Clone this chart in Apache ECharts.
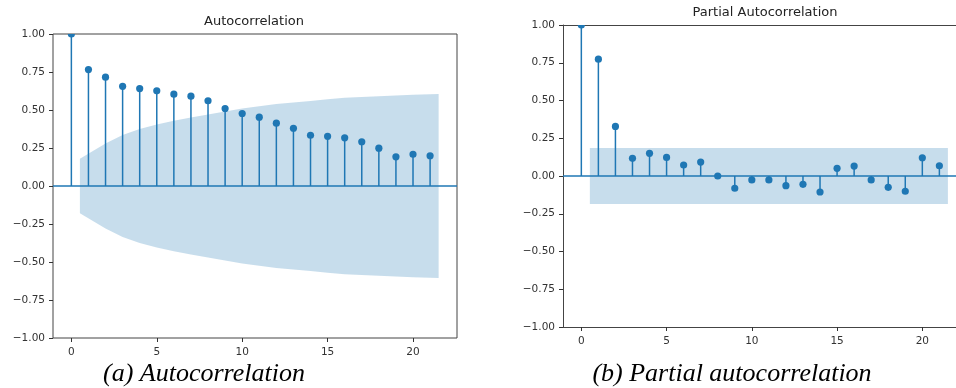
<!DOCTYPE html>
<html>
<head>
<meta charset="utf-8">
<script src="https://cdn.jsdelivr.net/npm/echarts@6/dist/echarts.min.js"></script>
<style>html,body{margin:0;padding:0;background:#fff}#c{width:956px;height:388px}</style>
</head>
<body>
<div id="c"></div>
<script>
// ---- data ----
const lags = [0,1,2,3,4,5,6,7,8,9,10,11,12,13,14,15,16,17,18,19,20,21];
const acfValues = [1.0,0.766,0.716,0.656,0.641,0.626,0.604,0.591,0.561,0.510,0.477,0.453,0.413,0.380,0.334,0.327,0.317,0.291,0.249,0.192,0.209,0.199];
// confidence band for lags 1..21
const acfBandUpper = [0.18,0.28,0.335,0.375,0.405,0.43,0.45,0.47,0.49,0.51,0.525,0.54,0.55,0.56,0.57,0.58,0.585,0.59,0.595,0.60,0.605];
const acfBandLower = [-0.18,-0.28,-0.335,-0.375,-0.405,-0.43,-0.45,-0.47,-0.49,-0.51,-0.525,-0.54,-0.55,-0.56,-0.57,-0.58,-0.585,-0.59,-0.595,-0.60,-0.605];
const pacfValues = [1.0,0.774,0.328,0.117,0.150,0.123,0.073,0.092,0.0,-0.081,-0.026,-0.026,-0.064,-0.055,-0.106,0.051,0.066,-0.026,-0.075,-0.101,0.121,0.068];
const pacfBandUpper = [0.185,0.185,0.185,0.185,0.185,0.185,0.185,0.185,0.185,0.185,0.185,0.185,0.185,0.185,0.185,0.185,0.185,0.185,0.185,0.185,0.185];
const pacfBandLower = [-0.185,-0.185,-0.185,-0.185,-0.185,-0.185,-0.185,-0.185,-0.185,-0.185,-0.185,-0.185,-0.185,-0.185,-0.185,-0.185,-0.185,-0.185,-0.185,-0.185,-0.185];
const xTicks = [0,5,10,15,20];
const titles = ['Autocorrelation','Partial Autocorrelation'];
const captions = ['(a) Autocorrelation','(b) Partial autocorrelation'];

// ---- build ----
const BLUE = '#1f77b4';
const FILL = 'rgba(31,119,180,0.25)';
const SPINE = '#444';
const XMIN = -1.075, XMAX = 22.575;
// right panel is cut off by the page edge
const XMAX_R = 21.975;

function bandX() {
  const xs = lags.slice(1).map(v => v);
  xs[0] -= 0.5; xs[xs.length-1] += 0.5;
  return xs;
}
const bx = bandX();

const grids = [
  {left: 53, top: 34, width: 404, height: 304, show: true, borderColor: SPINE, borderWidth: 1},
  {left: 563, top: 25, width: 393, height: 302, show: false}
];
const yFmt = v => (v < 0 ? '\u2212' : '') + Math.abs(v).toFixed(2);
const labelFont = {fontFamily: 'DejaVu Sans', fontSize: 10.5, color: '#333'};
const maxes = [XMAX, XMAX_R];

const xAxes = [];
const yAxes = [];
[0, 1].forEach(i => {
  xAxes.push({
    gridIndex: i, type: 'value', min: XMIN, max: maxes[i], position: 'bottom',
    axisLine: {show: i === 1, onZero: false, lineStyle: {color: SPINE, width: 1}},
    splitLine: {show: false},
    axisTick: {show: true, inside: false, length: 4, lineStyle: {color: '#333'}, customValues: xTicks},
    axisLabel: Object.assign({margin: 9, customValues: xTicks, formatter: v => String(v)}, labelFont)
  });
  yAxes.push({
    gridIndex: i, type: 'value', min: -1, max: 1, interval: 0.25, position: 'left',
    axisLine: {show: i === 1, onZero: false, lineStyle: {color: SPINE, width: 1}},
    splitLine: {show: false},
    axisTick: {show: true, inside: false, length: 4, lineStyle: {color: '#333'}},
    axisLabel: Object.assign({margin: 8, formatter: yFmt}, labelFont)
  });
});
// top spine of the right panel
xAxes.push({
  gridIndex: 1, type: 'value', min: XMIN, max: XMAX_R, position: 'top',
  axisLine: {show: true, onZero: false, lineStyle: {color: SPINE, width: 1}},
  axisTick: {show: false}, axisLabel: {show: false}, splitLine: {show: false}
});

function stemSeries(vals, i) {
  return {
    type: 'custom', xAxisIndex: i, yAxisIndex: i, z: 5, clip: true,
    data: lags.map((l, k) => [l, vals[k]]),
    renderItem: function (params, api) {
      const p = api.coord([api.value(0), api.value(1)]);
      const b = api.coord([api.value(0), 0]);
      return {
        type: 'group', children: [
          {type: 'line', shape: {x1: b[0], y1: b[1], x2: p[0], y2: p[1]}, style: {stroke: BLUE, lineWidth: 1.5}},
          {type: 'circle', shape: {cx: p[0], cy: p[1], r: 3.6}, style: {fill: BLUE}}
        ]
      };
    }
  };
}
function bandSeries(vals, i) {
  return {
    type: 'line', xAxisIndex: i, yAxisIndex: i, z: 1, silent: true,
    data: bx.map((x, k) => [x, vals[k]]),
    showSymbol: false, symbol: 'none',
    lineStyle: {width: 0, color: FILL},
    areaStyle: {color: FILL, origin: 'auto', opacity: 1}
  };
}
function zeroLine(i) {
  return {
    type: 'line', xAxisIndex: i, yAxisIndex: i, z: 3, silent: true,
    data: [[XMIN, 0], [maxes[i], 0]], showSymbol: false, symbol: 'none',
    lineStyle: {width: 1.6, color: BLUE}
  };
}

const option = {
  animation: false,
  backgroundColor: '#fff',
  grid: grids.map(g => Object.assign({backgroundColor: 'transparent', containLabel: false}, g)),
  xAxis: xAxes,
  yAxis: yAxes,
  series: [
    bandSeries(acfBandUpper, 0), bandSeries(acfBandLower, 0), zeroLine(0), stemSeries(acfValues, 0),
    bandSeries(pacfBandUpper, 1), bandSeries(pacfBandLower, 1), zeroLine(1), stemSeries(pacfValues, 1)
  ],
  graphic: [
    {type: 'text', x: 254, y: 22, style: {text: titles[0], font: '13px "DejaVu Sans"', fill: '#222', textAlign: 'center', textVerticalAlign: 'middle'}},
    {type: 'text', x: 765, y: 13, style: {text: titles[1], font: '13px "DejaVu Sans"', fill: '#222', textAlign: 'center', textVerticalAlign: 'middle'}},
    {type: 'text', x: 204, y: 374, style: {text: captions[0], font: 'italic 26px "Liberation Serif"', fill: '#000', textAlign: 'center', textVerticalAlign: 'middle'}},
    {type: 'text', x: 732, y: 374, style: {text: captions[1], font: 'italic 26px "Liberation Serif"', fill: '#000', textAlign: 'center', textVerticalAlign: 'middle'}}
  ]
};
const chart = echarts.init(document.getElementById('c'), null, {renderer: 'canvas'});
chart.setOption(option);
</script>
</body>
</html>
